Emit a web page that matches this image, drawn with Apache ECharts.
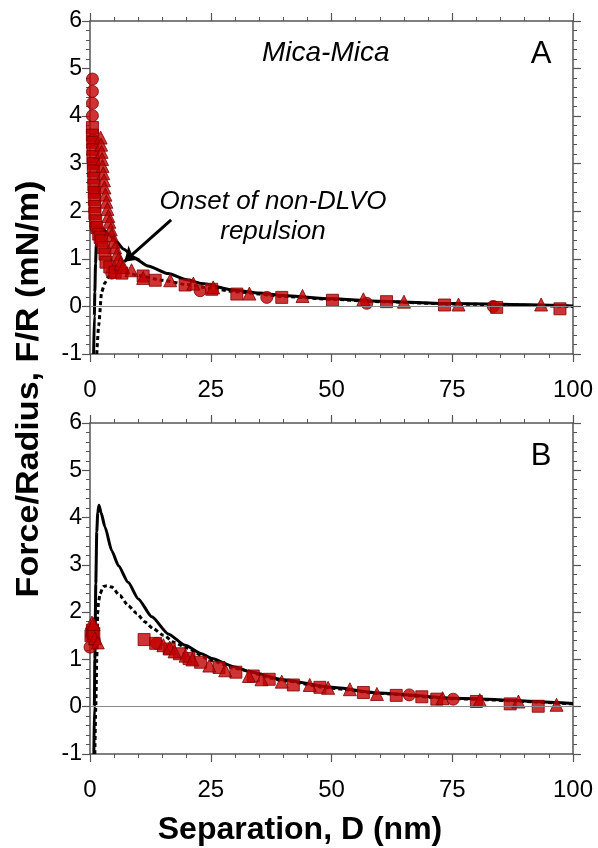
<!DOCTYPE html>
<html><head><meta charset="utf-8">
<script src="https://cdn.jsdelivr.net/npm/echarts@6/dist/echarts.min.js"></script>
<style>html,body{margin:0;padding:0;background:#fff}#c{width:598px;height:848px}</style>
</head><body><div id="c"></div>
<script>
// ---- Panel A data (D in nm, F/R in mN/m) ----
const aCircles = [[0.5,4.78],[0.5,4.52],[0.5,4.27],[0.5,4.01],[0.7,3.5],[0.8,3.0],[1.0,2.4],[1.2,1.66],[4.5,0.7],[22.8,0.33],[36.6,0.19],[57.3,0.065],[83.5,0.0]];
const aSquares = [[0.5,3.76],[0.5,3.6],[0.55,3.45],[0.6,3.3],[0.6,3.15],[0.7,3.0],[0.7,2.85],[0.8,2.7],[0.8,2.55],[0.9,2.4],[0.9,2.25],[1.0,2.1],[1.0,1.95],[1.2,1.8],[1.4,1.66],[1.8,1.52],[2.1,1.45],[2.4,1.38],[2.75,1.24],[3.1,1.1],[3.3,0.93],[4.1,0.83],[5.2,0.72],[6.6,0.7],[11,0.64],[13.5,0.55],[19.7,0.45],[25.2,0.36],[30.4,0.26],[39.7,0.19],[50.2,0.13],[61.4,0.1],[73.4,0.03],[84.2,-0.02],[97.3,-0.05]];
const aTriangles = [[2.2,3.55],[2.3,3.4],[2.4,3.25],[2.5,3.1],[2.6,2.95],[2.75,2.8],[2.9,2.65],[3.0,2.5],[3.2,2.35],[3.4,2.2],[3.6,2.05],[3.8,1.9],[4.0,1.78],[4.3,1.62],[4.5,1.5],[4.9,1.36],[5.2,1.24],[5.6,1.1],[5.9,1.0],[6.3,0.9],[6.9,0.83],[8.6,0.76],[11,0.6],[16.6,0.55],[21.4,0.48],[25.5,0.4],[33,0.27],[44,0.22],[56.6,0.15],[65,0.1],[76.3,0.04],[93.4,0.04]];
const aSolid = [[0.75,-1],[0.9,-0.2],[1.0,0.3],[1.15,0.9],[1.3,1.3],[1.5,1.5],[2,1.62],[3,1.6],[4,1.5],[5.5,1.36],[7,1.2],[9.3,1.01],[12,0.85],[16.2,0.69],[20,0.56],[23.1,0.48],[30,0.34],[35,0.28],[40,0.23],[50,0.16],[60,0.11],[75,0.06],[100,0.01]];
const aDotted = [[1.4,-1],[1.8,-0.4],[2.4,0.3],[3.1,0.5],[4,0.65],[5,0.72],[6,0.74],[8,0.7],[10,0.65],[15,0.55],[20,0.46],[25,0.38],[30,0.31],[40,0.21],[50,0.15],[60,0.1],[75,0.05],[100,0.0]];
// ---- Panel B data ----
const bCircles = [[0.0,1.26],[0.3,1.5],[0.6,1.62],[0.9,1.4],[13.8,1.34],[66.1,0.25],[75.2,0.16]];
const bSquares = [[0.2,1.5],[0.5,1.62],[0.8,1.55],[11.2,1.42],[13.6,1.34],[16.4,1.22],[18.5,1.12],[20.5,1.02],[22.9,0.94],[26.7,0.83],[30.2,0.73],[33.8,0.65],[37.1,0.58],[42.1,0.46],[47.6,0.41],[56.6,0.3],[63.4,0.24],[68.7,0.21],[71.8,0.16],[80,0.11],[87,0.06],[92.8,0.01]];
const bTriangles = [[0.4,1.78],[0.7,1.75],[1.0,1.45],[1.6,1.36],[15.2,1.3],[16.5,1.25],[17.5,1.17],[19.8,1.08],[21.2,1.0],[24.7,0.87],[28,0.77],[32.9,0.65],[35.5,0.58],[39.7,0.53],[45.5,0.46],[49.3,0.40],[53.8,0.37],[59.4,0.27],[73,0.18],[80.7,0.14],[88.7,0.11],[96.6,0.04]];
const bSolid = [[0.8,-1],[0.9,0],[1.0,1.0],[1.2,2.6],[1.4,3.7],[1.6,4.1],[1.86,4.26],[2.3,4.1],[3.1,3.8],[4.5,3.3],[5.9,2.98],[7.9,2.63],[10,2.28],[12.8,1.9],[16.2,1.54],[19.7,1.3],[23.1,1.12],[25.2,1.02],[30,0.84],[33,0.74],[40,0.57],[50,0.41],[60,0.29],[75,0.18],[100,0.07]];
const bDotted = [[1.0,-1],[1.2,0],[1.4,1.0],[1.6,1.97],[1.75,2.2],[2.07,2.39],[2.76,2.54],[3.5,2.56],[4.5,2.53],[6.2,2.35],[7.9,2.14],[9.7,1.97],[11.4,1.79],[13.1,1.65],[15.2,1.51],[17.5,1.36],[20,1.24],[25,0.98],[30,0.81],[40,0.55],[50,0.39],[60,0.28],[75,0.17],[100,0.06]];
const arrowA = [[16.8,1.82],[7.1,0.94]];
const xTicks = {min:0, max:100, interval:25};
const yTicks = {min:-1, max:6, interval:1};

const chart = echarts.init(document.getElementById('c'), null, {renderer:'canvas'});
const FONT = '"Liberation Sans", Arial, sans-serif';
const axisCol = '#555';
function xAx(grid, pos, showLabel){
  return {type:'value', gridIndex:grid, position:pos, min:xTicks.min, max:xTicks.max, interval:xTicks.interval,
    axisLine:{show:true,onZero:false,lineStyle:{color:axisCol,width:1.5}},
    axisTick:{show:true,inside:false,length:8,lineStyle:{color:axisCol,width:1.2}},
    minorTick:{show:true,splitNumber:5,length:4,lineStyle:{color:axisCol,width:1}},
    axisLabel:{show:showLabel,color:'#000',fontSize:24,fontFamily:FONT,margin:24},
    splitLine:{show:false}};
}
function yAx(grid, pos, showLabel){
  return {type:'value', gridIndex:grid, position:pos, min:yTicks.min, max:yTicks.max, interval:yTicks.interval,
    axisLine:{show:true,onZero:false,lineStyle:{color:axisCol,width:1.5}},
    axisTick:{show:true,inside:false,length:8,lineStyle:{color:axisCol,width:1.2}},
    minorTick:{show:true,splitNumber:5,length:4,lineStyle:{color:axisCol,width:1}},
    axisLabel:{show:showLabel,color:'#000',fontSize:23,fontFamily:FONT,margin:8},
    splitLine:{show:false}};
}
const mStyle = {color:'#c40000', borderColor:'#7a0000', borderWidth:1};
function scat(data, sym, size, xi, yi){
  return {type:'scatter', data, symbol:sym, symbolSize:size, xAxisIndex:xi, yAxisIndex:yi, itemStyle:mStyle, z:3};
}
function line(data, dashed, xi, yi, extra){
  const s = {type:'line', data, showSymbol:false, symbol:'none', smooth:0.2, smoothMonotone:'x', xAxisIndex:xi, yAxisIndex:yi,
    lineStyle:{color:'#000', width:3, type: dashed ? [4,3] : 'solid'}, z:2};
  return Object.assign(s, extra||{});
}
const zeroLine = {silent:true, symbol:'none', label:{show:false}, lineStyle:{color:'#888',width:1,type:'solid'}, data:[{yAxis:0}]};

chart.setOption({
  animation:false,
  grid:[{left:90,top:21,width:483,height:333},{left:90,top:423,width:483,height:331}],
  xAxis:[xAx(0,'bottom',true), xAx(0,'top',false), xAx(1,'bottom',true), xAx(1,'top',false)],
  yAxis:[yAx(0,'left',true), yAx(0,'right',false), yAx(1,'left',true), yAx(1,'right',false)],
  series:[
    line(aSolid,false,0,0,{markLine:zeroLine}),
    line(aDotted,true,0,0),
    scat(aCircles,'circle',12,0,0),
    scat(aSquares,'rect',12,0,0),
    scat(aTriangles,'triangle',13,0,0),
    {type:'line', xAxisIndex:0, yAxisIndex:0, data:[], z:5,
      markLine:{silent:true, symbol:['none','arrow'], symbolSize:14, label:{show:false},
        lineStyle:{color:'#000',width:3,type:'solid'},
        data:[[{coord:arrowA[0]},{coord:arrowA[1]}]]}},
    line(bSolid,false,2,2,{markLine:zeroLine}),
    line(bDotted,true,2,2),
    scat(bCircles,'circle',12,2,2),
    scat(bSquares,'rect',12,2,2),
    scat(bTriangles,'triangle',13,2,2)
  ],
  graphic:[
    {type:'text', x:262, y:53, style:{text:'Mica-Mica', fontSize:28, fontStyle:'italic', fontFamily:FONT, fill:'#000', textAlign:'left', textVerticalAlign:'middle'}},
    {type:'text', x:541, y:54, style:{text:'A', fontSize:31, fontFamily:FONT, fill:'#000', textAlign:'center', textVerticalAlign:'middle'}},
    {type:'text', x:541, y:456, style:{text:'B', fontSize:31, fontFamily:FONT, fill:'#000', textAlign:'center', textVerticalAlign:'middle'}},
    {type:'text', x:273, y:202, style:{text:'Onset of non-DLVO', fontSize:26, fontStyle:'italic', fontFamily:FONT, fill:'#000', textAlign:'center', textVerticalAlign:'middle'}},
    {type:'text', x:273, y:232, style:{text:'repulsion', fontSize:26, fontStyle:'italic', fontFamily:FONT, fill:'#000', textAlign:'center', textVerticalAlign:'middle'}},
    {type:'text', x:29, y:389, rotation:Math.PI/2, scaleX:1.1, style:{text:'Force/Radius, F/R (mN/m)', fontSize:31, fontWeight:'bold', fontFamily:FONT, fill:'#000', textAlign:'center', textVerticalAlign:'middle'}},
    {type:'text', x:300, y:830, style:{text:'Separation, D (nm)', fontSize:32, fontWeight:'bold', fontFamily:FONT, fill:'#000', textAlign:'center', textVerticalAlign:'middle'}}
  ]
});
</script></body></html>
